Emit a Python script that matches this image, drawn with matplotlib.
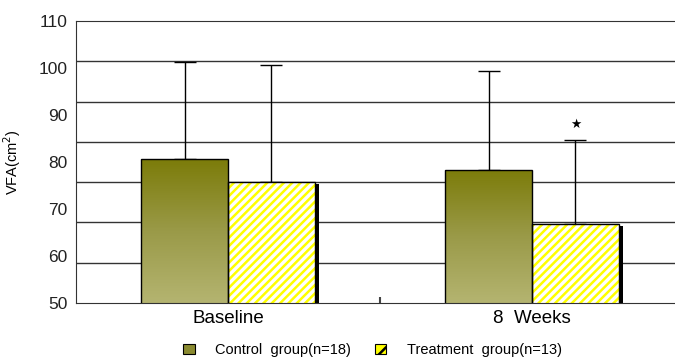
"""VFA bar chart: control vs treatment at baseline and 8 weeks."""

import matplotlib

matplotlib.use("Agg")
import matplotlib.pyplot as plt
import matplotlib.patheffects as pe
import numpy as np
from matplotlib.colors import LinearSegmentedColormap
from matplotlib.patches import Patch

# data
periods = ["Baseline", "8  Weeks"]
groups = ["Control  group(n=18)", "Treatment  group(n=13)"]
control_mean = [80.6, 78.4]
control_sd = [20.6, 21.0]
treatment_mean = [75.8, 66.8]
treatment_sd = [24.8, 17.9]
significant = [False, True]  # treatment vs control marker

Y_MIN, Y_MAX = 50, 110
N_GRID = 8  # the original grid does not follow the tick labels

plt.rcParams["font.family"] = ["Liberation Sans", "DejaVu Sans"]
plt.rcParams["hatch.linewidth"] = 1.8

fig = plt.figure(figsize=(6.75, 3.61), dpi=100)
ax = fig.add_axes([76 / 675, 58 / 361, 608 / 675, 282 / 361])

x = np.arange(len(periods))
width = 0.285
off = width / 2

olive = LinearSegmentedColormap.from_list("olive", ["#7c7c0a", "#9a9a48", "#b4b470"])

# control bars with vertical gradient
ctrl_bars = ax.bar(x - off, control_mean, width, bottom=0, color="none",
                   edgecolor="black", linewidth=1.0, zorder=3)
for bar, top in zip(ctrl_bars, control_mean):
    x0 = bar.get_x()
    grad = np.linspace(0, 1, 100).reshape(-1, 1)
    im = ax.imshow(grad, cmap=olive, aspect="auto", origin="upper",
                   extent=(x0, x0 + width, Y_MIN, top), zorder=2)
    im.set_clip_path(bar)

# treatment bars: black drop shadow, yellow hatch on white, black outline
ax.bar(x + off, treatment_mean, width, color="black", linewidth=0, zorder=1.8,
       path_effects=[pe.SimplePatchShadow(offset=(3, -1.5), shadow_rgbFace="black", alpha=1.0)])
ax.bar(x + off, treatment_mean, width, color="white", edgecolor="#ffff00",
       hatch="////", linewidth=0, zorder=2)
ax.bar(x + off, treatment_mean, width, fill=False, edgecolor="black",
       linewidth=1.0, zorder=3)

# upper error bars only
ax.errorbar(x - off, control_mean, yerr=[np.zeros(len(x)), control_sd], fmt="none",
            ecolor="black", elinewidth=1.0, capsize=8, capthick=1.0, zorder=1)
ax.errorbar(x + off, treatment_mean, yerr=[np.zeros(len(x)), treatment_sd], fmt="none",
            ecolor="black", elinewidth=1.0, capsize=8, capthick=1.0, zorder=1)

for xi, m, s, sig in zip(x + off, treatment_mean, treatment_sd, significant):
    if sig:
        ax.annotate("★", (xi, m + s), xytext=(0, 11), textcoords="offset points",
                    ha="center", va="center", fontsize=9, family="DejaVu Sans")

ax.set_xlim(-0.5, 1.5)
ax.set_ylim(Y_MIN, Y_MAX)

ax.set_yticks(np.arange(Y_MIN, Y_MAX + 1, 10))
ax.set_yticks(np.linspace(Y_MIN, Y_MAX, N_GRID), minor=True)
ax.tick_params(axis="y", which="both", length=0, labelsize=12.5, pad=6, colors="#222222")
ax.grid(True, axis="y", which="minor", color="#333333", linewidth=1.0, zorder=0)
ax.set_axisbelow(True)

ax.set_xticks(x)
ax.set_xticklabels(periods)
ax.set_xticks([0.5], minor=True)
ax.tick_params(axis="x", which="major", length=0, labelsize=13.5, pad=5, colors="black")
ax.tick_params(axis="x", which="minor", direction="in", length=4, width=1.5, color="#444444")

ax.spines["right"].set_visible(False)
for side in ("left", "bottom", "top"):
    ax.spines[side].set_color("#333333")

ax.set_ylabel("VFA(cm$^2$)", fontsize=10.5, labelpad=11)

handles = [
    Patch(facecolor="#8a8a30", edgecolor="black", linewidth=0.8),
    Patch(facecolor="#ffff00", edgecolor="black", linewidth=0.8, hatch="//"),
]
fig.legend(handles, groups, loc="center", bbox_to_anchor=(0.552, 0.03), ncol=2,
           frameon=False, fontsize=10.5, handlelength=0.8, handleheight=0.6,
           handletextpad=1.4, columnspacing=1.6)

fig.savefig("out.png", dpi=100)
plt.close(fig)
